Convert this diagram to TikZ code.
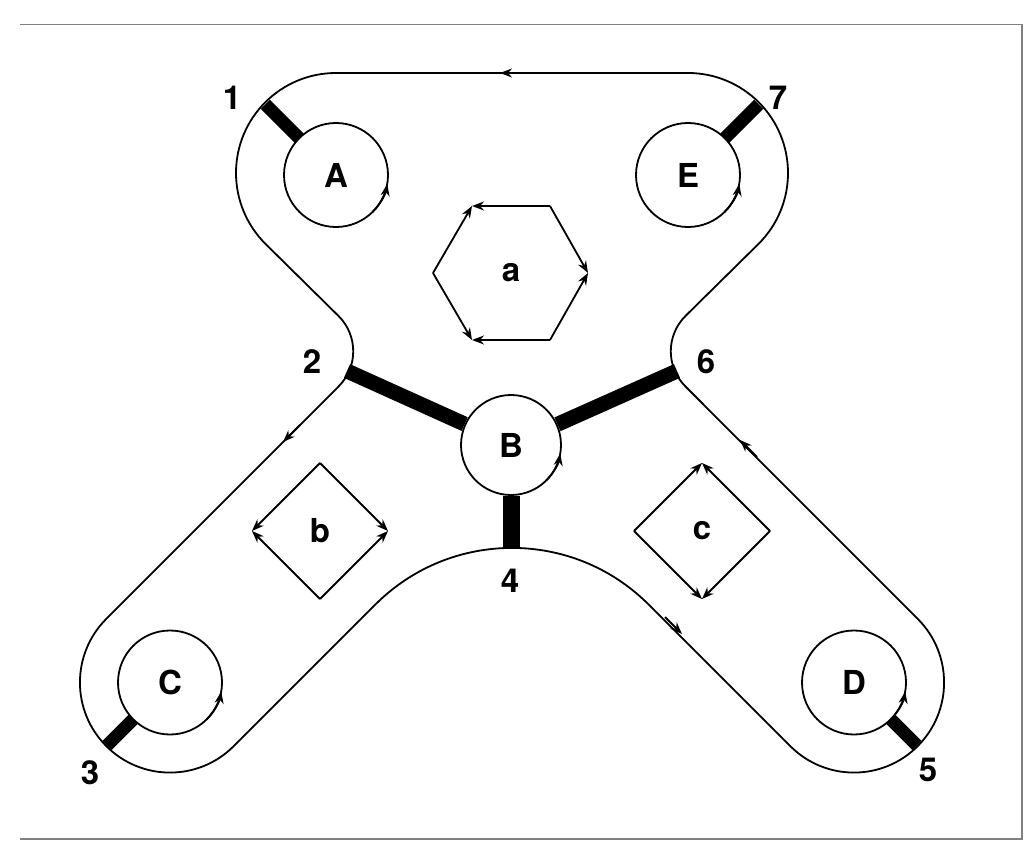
\documentclass[tikz,border=0pt]{standalone}
\usepackage{fontspec}
\setmainfont{TeX Gyre Heros}
\usetikzlibrary{arrows.meta,calc}
\begin{document}
\begin{tikzpicture}[x=1pt,y=-1pt,line width=1.8pt,
  lbl/.style={font=\fontsize{33}{33}\selectfont\bfseries},
  hub/.style={circle,draw,minimum size=104pt,inner sep=0pt,font=\fontsize{33}{33}\selectfont\bfseries},
  bar/.style={line width=13pt},
  tip/.style={-{Stealth[length=12pt,width=9pt]}}]
\useasboundingbox (0,0) rectangle (1024,866);
\draw[gray,line width=1.5pt] (20,24.5) -- (1022,24.5) -- (1022,839) -- (20,839);
% outer loop
\draw (512,73) -- (336,73) arc[start angle=270,end angle=135,radius=100]
  [rounded corners=50pt] -- (374,351) [rounded corners=89.9pt] -- (42.7,682.5)
  -- (170,809.8) [rounded corners=193pt] -- (512,468) [rounded corners=89.9pt]
  -- (854,809.8) -- (981.3,682.5) [rounded corners=50pt] -- (650,351)
  [sharp corners] -- (758.7,243.7) arc[start angle=45,end angle=-90,radius=100] -- (512,73);
\draw[tip] (520,73) -- (500,73);
\draw[tip] (300,425) -- (283,442);
\draw[tip] (665,617) -- (682,634);
\draw[tip] (757,457) -- (740,440);
% hubs
\node[hub] (A) at (336,175) {A};
\node[hub] (E) at (688,175) {E};
\node[hub,minimum size=100pt] (B) at (511,445) {B};
\node[hub] (C) at (170,682.5) {C};
\node[hub] (D) at (854,682.5) {D};
\foreach \n in {A,E,C,D}{\draw[tip] (\n) ++(45:52) arc (45:10:52);}
\draw[tip] (B) ++(45:50) arc (45:10:50);
% bars
\draw[bar] ($(A)+(225:52)$) -- ($(A)+(225:100)$);
\draw[bar] ($(E)+(315:52)$) -- ($(E)+(315:100)$);
\draw[bar] ($(C)+(135:52)$) -- ($(C)+(135:89)$);
\draw[bar] ($(D)+(45:52)$) -- ($(D)+(45:89)$);
\coordinate (p2) at (347,371);
\coordinate (p6) at (677,371);
\coordinate (p4) at (511,549);
\draw[line width=15pt] (p2) -- (B);
\draw[line width=15pt] (p6) -- (B);
\draw[line width=17pt] (B) -- (p4);
% hexagon a
\coordinate (h1) at (433,273); \coordinate (h2) at (472,206); \coordinate (h3) at (550,206);
\coordinate (h4) at (588,273); \coordinate (h5) at (550,340); \coordinate (h6) at (472,340);
\draw[tip] (h3) -- (h2); \draw[tip] (h1) -- (h2);
\draw[tip] (h3) -- (h4); \draw[tip] (h5) -- (h4);
\draw[tip] (h1) -- (h6); \draw[tip] (h5) -- (h6);
\node[lbl] (la) at (511,273) {a};
% diamond b
\coordinate (b1) at (252,531); \coordinate (b2) at (320,463); \coordinate (b3) at (388,531); \coordinate (b4) at (320,599);
\draw[tip] (b2) -- (b1); \draw[tip] (b4) -- (b1); \draw[tip] (b2) -- (b3); \draw[tip] (b4) -- (b3);
\node[lbl] (lb) at (320,531) {b};
% diamond c
\coordinate (c1) at (634,531); \coordinate (c2) at (702,463); \coordinate (c3) at (770,531); \coordinate (c4) at (702,599);
\draw[tip] (c1) -- (c2); \draw[tip] (c3) -- (c2); \draw[tip] (c1) -- (c4); \draw[tip] (c3) -- (c4);
\node[lbl] (lc) at (702,531) {c};
% numbers
\node[lbl] (n1) at (232,98) {1};
\node[lbl] (n7) at (778,98) {7};
\node[lbl] (n2) at (312,362) {2};
\node[lbl] (n6) at (706,362) {6};
\node[lbl] (n4) at (510,581) {4};
\node[lbl] (n3) at (90,773) {3};
\node[lbl] (n5) at (928,770) {5};
\end{tikzpicture}
\end{document}
